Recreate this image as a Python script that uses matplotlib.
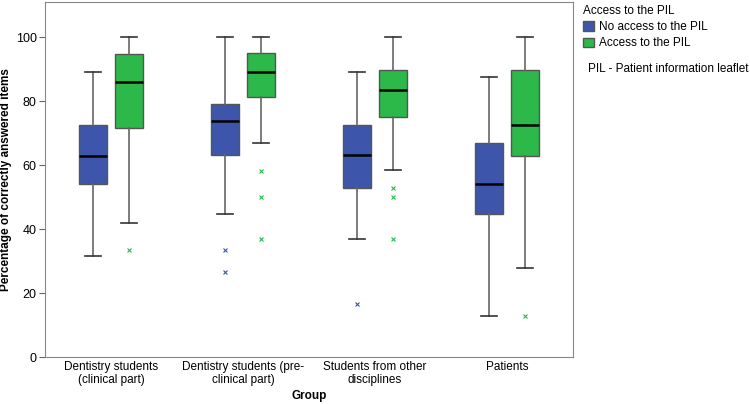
import numpy as np
import matplotlib.pyplot as plt
from matplotlib.patches import Patch

plt.rcParams['font.family'] = ['Liberation Sans', 'DejaVu Sans']

groups = ['Dentistry students\n(clinical part)', 'Dentistry students (pre-\nclinical part)',
          'Students from other\ndisciplines', 'Patients']

# box stats: whislo, q1, med, q3, whishi, outliers
no_access = [
    (31.7, 54.2, 62.7, 72.5, 89.0, []),
    (44.6, 63.3, 73.8, 79.2, 100.0, [33.4, 26.5]),
    (37.0, 52.7, 63.3, 72.5, 89.0, [16.7]),
    (12.7, 44.6, 54.2, 66.8, 87.6, []),
]
access = [
    (41.8, 71.7, 86.0, 94.7, 100.0, [33.4]),
    (66.8, 81.4, 89.0, 94.9, 100.0, [58.0, 50.1, 37.0]),
    (58.4, 75.1, 83.4, 89.6, 100.0, [52.7, 50.1, 37.0]),
    (27.9, 62.7, 72.5, 89.6, 100.0, [12.7]),
]

blue = '#3d55aa'
green = '#2db84a'
fs = 8.5

def toStats(rows):
    stats = []
    for lo, q1, med, q3, hi, fl in rows:
        stats.append(dict(whislo=lo, q1=q1, med=med, q3=q3, whishi=hi, fliers=fl))
    return stats

fig = plt.figure(figsize=(7.5, 4.04), dpi=100)
ax = fig.add_axes([0.06, 0.1163, 0.704, 0.879])

x = np.arange(len(groups))
for stats, off, col in [(toStats(no_access), -0.135, blue), (toStats(access), 0.135, green)]:
    ax.bxp(stats, positions=x + off, widths=0.21, patch_artist=True,
           boxprops=dict(facecolor=col, edgecolor='#555555', linewidth=1),
           medianprops=dict(color='black', linewidth=1.8),
           whiskerprops=dict(color='#666666', linewidth=1.2),
           capprops=dict(color='#333333', linewidth=1.2),
           capwidths=0.12,
           flierprops=dict(marker='x', markersize=3, markeredgecolor=col, markeredgewidth=0.8))

ax.set_xlim(-0.5, 3.5)
ax.set_ylim(0, 111)
ax.set_yticks([0, 20, 40, 60, 80, 100])
ax.set_xticks(x)
ax.set_xticklabels(groups, fontsize=fs, linespacing=1.1)
ax.tick_params(axis='y', labelsize=fs + 0.5, length=4, color='#666666', pad=2)
ax.tick_params(axis='x', length=0, pad=3)
for s in ax.spines.values():
    s.set_color('#888888')
ax.set_ylabel('Percentage of correctly answered items', fontsize=fs, fontweight='bold')
ax.yaxis.set_label_coords(-0.063, 0.5)
ax.set_xlabel('Group', fontsize=fs, fontweight='bold')
ax.xaxis.set_label_coords(0.5, -0.093)

handles = [Patch(facecolor=blue, edgecolor='#555555', label='No access to the PIL'),
           Patch(facecolor=green, edgecolor='#555555', label='Access to the PIL')]
leg = fig.legend(handles=handles, title='Access to the PIL', loc='upper left',
                 bbox_to_anchor=(0.776, 0.99), frameon=False, fontsize=fs,
                 title_fontsize=fs, handlelength=0.9, handleheight=0.9,
                 handletextpad=0.4, labelspacing=0.35, borderaxespad=0, borderpad=0.1)
leg._legend_box.align = 'left'
fig.text(0.784, 0.829, 'PIL - Patient information leaflet', fontsize=fs, va='center')

fig.savefig('out.png', dpi=100)
